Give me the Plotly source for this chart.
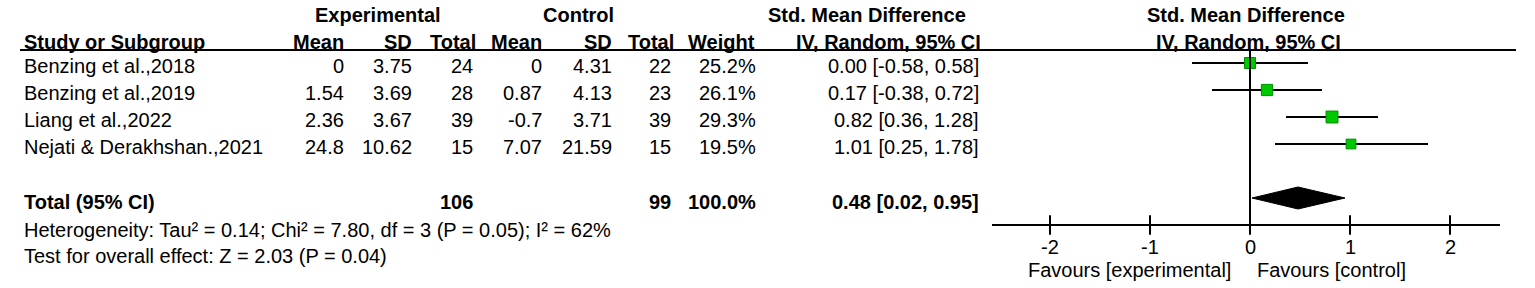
import plotly.graph_objects as go

# ---------------- data ----------------
studies = ["Benzing et al.,2018", "Benzing et al.,2019", "Liang et al.,2022", "Nejati & Derakhshan.,2021"]
exp_mean = ["0", "1.54", "2.36", "24.8"]
exp_sd = ["3.75", "3.69", "3.67", "10.62"]
exp_n = [24, 28, 39, 15]
ctl_mean = ["0", "0.87", "-0.7", "7.07"]
ctl_sd = ["4.31", "4.13", "3.71", "21.59"]
ctl_n = [22, 23, 39, 15]
weights = [25.2, 26.1, 29.3, 19.5]
smd = [0.00, 0.17, 0.82, 1.01]
ci_lo = [-0.58, -0.38, 0.36, 0.25]
ci_hi = [0.58, 0.72, 1.28, 1.78]
total_exp = 106
total_ctl = 99
total_weight = "100.0%"
pooled = 0.48
pooled_lo = 0.02
pooled_hi = 0.95
heterogeneity = "Heterogeneity: Tau² = 0.14; Chi² = 7.80, df = 3 (P = 0.05); I² = 62%"
overall = "Test for overall effect: Z = 2.03 (P = 0.04)"
tick_vals = [-2, -1, 0, 1, 2]
tick_text = ["-2", "-1", "0", "1", "2"]
axis_range = [-2.58, 2.5]
favours_left = "Favours [experimental]"
favours_right = "Favours [control]"

# ---------------- layout helpers ----------------
W, H = 1535, 288
FONT = "Liberation Sans, Arial, sans-serif"
FS = 20
ROW0, ROWH = 63, 27          # pixel of first row, row spacing
def px(p):
    return p / W
def py(p):
    return 1 - p / H

fig = go.Figure()
annotations = []
def txt(x, y, s, anchor="left", bold=False, size=FS):
    annotations.append(dict(
        x=px(x), y=py(y), xref="paper", yref="paper", text=("<b>%s</b>" % s) if bold else s,
        showarrow=False, xanchor=anchor, yanchor="middle", borderpad=0,
        font=dict(family=FONT, size=size, color="black")))

# headers
txt(378, 15, "Experimental", "center", True)
txt(578, 15, "Control", "center", True)
txt(867, 15, "Std. Mean Difference", "center", True)
txt(1246, 15, "Std. Mean Difference", "center", True)
txt(23, 42, "Study or Subgroup", "left", True)
txt(345, 42, "Mean", "right", True)
txt(413, 42, "SD", "right", True)
txt(477, 42, "Total", "right", True)
txt(543, 42, "Mean", "right", True)
txt(613, 42, "SD", "right", True)
txt(675, 42, "Total", "right", True)
txt(756, 42, "Weight", "right", True)
txt(982, 42, "IV, Random, 95% CI", "right", True)
txt(1248, 42, "IV, Random, 95% CI", "center", True)

# study rows
for i, s in enumerate(studies):
    y = ROW0 + ROWH * i + 3
    txt(23, y, s, "left")
    txt(345, y, exp_mean[i], "right")
    txt(413, y, exp_sd[i], "right")
    txt(474, y, str(exp_n[i]), "right")
    txt(543, y, ctl_mean[i], "right")
    txt(613, y, ctl_sd[i], "right")
    txt(672, y, str(ctl_n[i]), "right")
    txt(757, y, "%.1f%%" % weights[i], "right")
    txt(980, y, "%.2f [%.2f, %.2f]" % (smd[i], ci_lo[i], ci_hi[i]), "right")

# total rows
txt(23, 202, "Total (95% CI)", "left", True)
txt(474, 202, str(total_exp), "right", True)
txt(672, 202, str(total_ctl), "right", True)
txt(757, 202, total_weight, "right", True)
txt(980, 202, "%.2f [%.2f, %.2f]" % (pooled, pooled_lo, pooled_hi), "right", True)
txt(23, 230, heterogeneity, "left")
txt(23, 256, overall, "left")

# ---------------- forest plot ----------------
rows = list(range(len(studies)))
# CI lines
for i in rows:
    fig.add_trace(go.Scatter(x=[ci_lo[i], ci_hi[i]], y=[i, i], mode="lines",
                             line=dict(color="black", width=2), hoverinfo="skip", showlegend=False))
# squares
fig.add_trace(go.Scatter(x=smd, y=rows, mode="markers",
                         marker=dict(symbol="square", size=[2.2 * w ** 0.5 for w in weights],
                                     color="rgb(0,200,0)", opacity=1,
                                     line=dict(color="rgb(0,140,0)", width=1)),
                         showlegend=False))
# diamond
total_row = len(studies) + 1
hh = 11 / ROWH
fig.add_trace(go.Scatter(x=[pooled_lo, pooled, pooled_hi, pooled, pooled_lo],
                         y=[total_row, total_row - hh, total_row, total_row + hh, total_row],
                         mode="lines", fill="toself", fillcolor="black",
                         line=dict(color="black", width=1), showlegend=False))
axis_row = total_row + 1
# axis line
fig.add_trace(go.Scatter(x=axis_range, y=[axis_row, axis_row], mode="lines",
                         line=dict(color="black", width=2), showlegend=False))
# tick marks
fig.add_trace(go.Scatter(x=tick_vals, y=[axis_row] * len(tick_vals), mode="markers",
                         marker=dict(symbol="line-ns-open", size=14, color="black",
                                     line=dict(color="black", width=2)),
                         showlegend=False))
# tick labels
for v, t in zip(tick_vals, tick_text):
    annotations.append(dict(x=v, y=py(247), xref="x", yref="paper", text=t, showarrow=False,
                            xanchor="center", yanchor="middle", borderpad=0,
                            font=dict(family=FONT, size=FS, color="black")))
txt(1232, 270, favours_left, "right")
txt(1256, 270, favours_right, "left")

shapes = [
    dict(type="line", xref="paper", yref="paper", x0=px(20), x1=px(1516), y0=py(50), y1=py(50),
         line=dict(color="black", width=2)),
    dict(type="line", xref="x", yref="paper", x0=0, x1=0, y0=py(50), y1=py(ROW0 + ROWH * axis_row),
         line=dict(color="black", width=2)),
]

# x axis: 0 at pixel 1250, 100 px per unit
x_lo = (0 - 1250) / 100
x_hi = (W - 1250) / 100
y_top = -ROW0 / ROWH
y_bot = (H - ROW0) / ROWH

fig.update_layout(
    width=W, height=H, margin=dict(l=0, r=0, t=0, b=0),
    paper_bgcolor="white", plot_bgcolor="white",
    xaxis=dict(range=[x_lo, x_hi], domain=[0, 1], visible=False, fixedrange=True),
    yaxis=dict(range=[y_bot, y_top], domain=[0, 1], visible=False, fixedrange=True),
    annotations=annotations, shapes=shapes, showlegend=False,
)
fig.write_html("out.html", config={"displayModeBar": False},
               post_script="document.body.style.margin='0px';document.body.style.overflow='hidden';")
